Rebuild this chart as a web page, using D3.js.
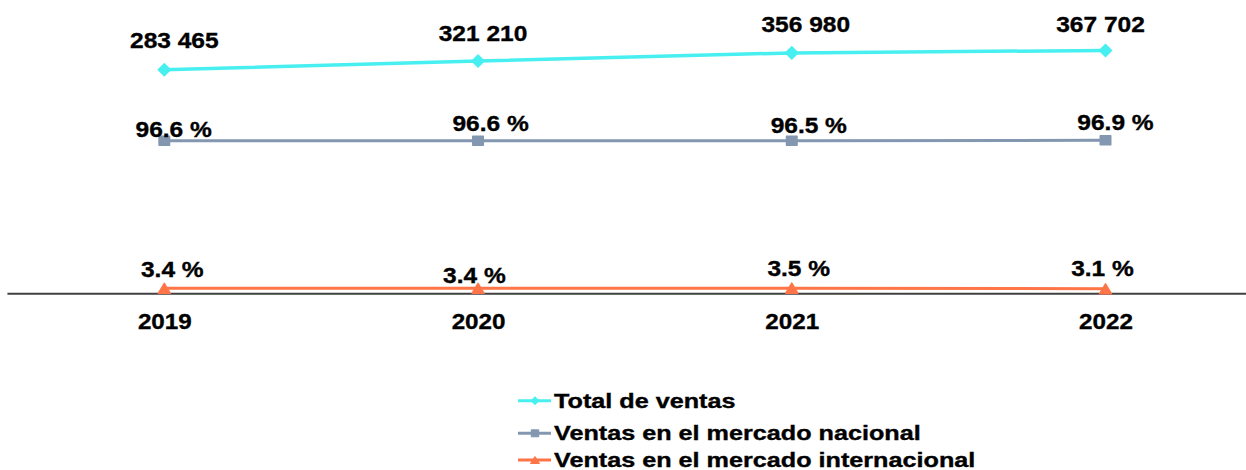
<!DOCTYPE html>
<html>
<head>
<meta charset="utf-8">
<script src="https://cdn.jsdelivr.net/npm/d3@7"></script>
<style>
  html, body { margin: 0; padding: 0; background: #fff; }
  svg { display: block; font-family: 'Liberation Sans', Arial, sans-serif; font-weight: bold; }
  svg text { stroke: #000; stroke-width: 0.35px; }
</style>
</head>
<body>
<svg id="chart" width="1246" height="470"></svg>
<script>
const years = ['2019', '2020', '2021', '2022'];
const totalVentas = [283465, 321210, 356980, 367702];
const mercadoNacional = [96.6, 96.6, 96.5, 96.9];
const mercadoInternacional = [3.4, 3.4, 3.5, 3.1];
const seriesNames = ['Total de ventas', 'Ventas en el mercado nacional', 'Ventas en el mercado internacional'];

// label nudges (dx, dy) from each point, the original labels were hand placed
const totalNudge = [[10, -21.6], [5, -19.7], [14, -20.6], [-5, -18.3]];
const nacionalNudge = [[9.4, -4], [12.5, -9.7], [17, -8], [10, -10.7]];
const internacionalNudge = [[8, -11.6], [-3.6, -5], [7, -12], [-3, -12.8]];

const colors = { total: '#47EFF0', nacional: '#8497B0', internacional: '#FF7548' };

const width = 1246;
const axisY = 293.7;
const svg = d3.select('#chart');

const x = d3.scalePoint().domain(years).range([164.3, 1105.5]);
const yPct = d3.scaleLinear().domain([0, 160]).range([axisY, 40.3]);
const yTot = d3.scaleLinear().domain([-695000, 412000]).range([axisY, 40.3]); // secondary axis, hidden

const fmtThousands = d3.formatLocale({
  decimal: '.', thousands: ' ', grouping: [3], currency: ['', ''],
}).format(',d');
const fmtPct = (d) => `${d.toFixed(1)} %`;

// marker shapes
const diamond = (s) => `M0,${-s}L${s},0L0,${s}L${-s},0Z`;
const square = (w, h) => `M${-w / 2},${-h / 2}h${w}v${h}h${-w}Z`;
const triangle = (w, h) => `M0,${-h / 2}L${w / 2},${h / 2}L${-w / 2},${h / 2}Z`;

const series = [
  {
    key: 'total', values: totalVentas, y: yTot, fmt: fmtThousands, nudge: totalNudge,
    marker: diamond(6), legendMarker: diamond(4), width: 3.5,
  },
  {
    key: 'nacional', values: mercadoNacional, y: yPct, fmt: fmtPct, nudge: nacionalNudge,
    marker: square(10.5, 9), legendMarker: square(7.5, 7), width: 3,
  },
  {
    key: 'internacional', values: mercadoInternacional, y: yPct, fmt: fmtPct, nudge: internacionalNudge,
    marker: triangle(12, 10), legendMarker: triangle(9, 7), width: 3,
  },
];

// category axis line
svg.append('line')
  .attr('x1', x(years[0]) - x.step() / 2)
  .attr('x2', width)
  .attr('y1', axisY)
  .attr('y2', axisY)
  .attr('stroke', '#404040')
  .attr('stroke-width', 2);

const xaxis = svg.append('g')
  .attr('transform', `translate(0,${axisY})`)
  .call(d3.axisBottom(x).tickSize(0).tickPadding(20));
xaxis.select('.domain').remove();
xaxis.attr('font-size', null).attr('font-family', null);
xaxis.selectAll('text')
  .attr('fill', '#000')
  .style('font-size', '22px')
  .attr('transform', 'scale(1.1,1)');

series.forEach((s) => {
  const color = colors[s.key];
  const pts = s.values.map((v, i) => ({ year: years[i], value: v, nudge: s.nudge[i] }));

  const line = d3.line()
    .x((d) => x(d.year))
    .y((d) => s.y(d.value));

  svg.append('path')
    .datum(pts)
    .attr('fill', 'none')
    .attr('stroke', color)
    .attr('stroke-width', s.width)
    .attr('stroke-linejoin', 'round')
    .attr('d', line);

  svg.selectAll(`.marker-${s.key}`)
    .data(pts)
    .enter()
    .append('path')
    .attr('class', `marker-${s.key}`)
    .attr('d', s.marker)
    .attr('transform', (d) => `translate(${x(d.year)},${s.y(d.value)})`)
    .attr('fill', color)
    .attr('stroke', color)
    .attr('stroke-width', 1.5)
    .attr('stroke-linejoin', 'round');

  svg.selectAll(`.label-${s.key}`)
    .data(pts)
    .enter()
    .append('text')
    .attr('class', `label-${s.key}`)
    .attr('transform', (d) => `translate(${x(d.year) + d.nudge[0]},${s.y(d.value) + d.nudge[1]}) scale(1.14,1)`)
    .attr('text-anchor', 'middle')
    .attr('font-size', 21.5)
    .attr('fill', '#000')
    .text((d) => s.fmt(d.value));
});

// legend
const legendRowY = [400.7, 433.3, 460];
const legend = svg.append('g');
series.forEach((s, i) => {
  const row = legend.append('g').attr('transform', `translate(518,${legendRowY[i]})`);
  row.append('line')
    .attr('x1', 0)
    .attr('x2', 33)
    .attr('stroke', colors[s.key])
    .attr('stroke-width', 3);
  row.append('path')
    .attr('d', s.legendMarker)
    .attr('transform', 'translate(17,0)')
    .attr('fill', colors[s.key])
    .attr('stroke', colors[s.key])
    .attr('stroke-linejoin', 'round');
  row.append('text')
    .attr('transform', 'translate(36,7) scale(1.26,1)')
    .attr('font-size', 20)
    .attr('fill', '#000')
    .text(seriesNames[i]);
});
</script>
</body>
</html>
